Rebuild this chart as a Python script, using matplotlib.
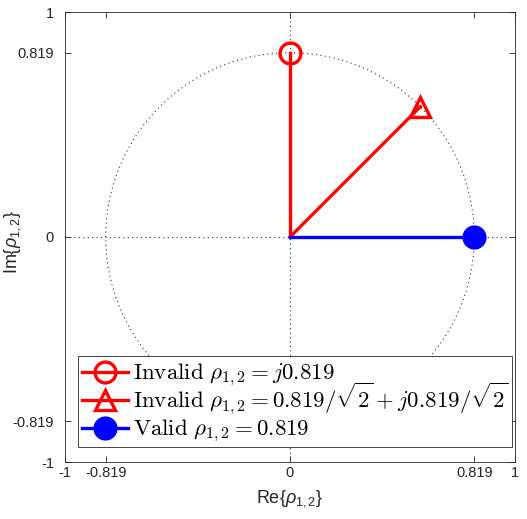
import numpy as np
import matplotlib
matplotlib.use("Agg")
import matplotlib.pyplot as plt
from matplotlib.patches import Rectangle
from matplotlib.lines import Line2D

r = 0.819
angles_deg = [90, 45, 0]
colors = ["#ff0000", "#ff0000", "#0000ff"]
markers = ["o", "^", "o"]
fills = ["none", "none", "full"]
labels = [r"$\mathrm{Invalid}\ \rho_{1,2} = j0.819$",
          r"$\mathrm{Invalid}\ \rho_{1,2} = 0.819/\sqrt{2} + j0.819/\sqrt{2}$",
          r"$\mathrm{Valid}\ \rho_{1,2} = 0.819$"]
ticks = [-1, -0.819, 0, 0.819, 1]
tick_labels = ["-1", "-0.819", "0", "0.819", "1"]

plt.rcParams['font.family'] = ['Liberation Sans', 'DejaVu Sans']
plt.rcParams['mathtext.fontset'] = 'custom'
plt.rcParams['mathtext.rm'] = 'Liberation Sans'
plt.rcParams['mathtext.it'] = 'Liberation Sans:italic'

fig = plt.figure(figsize=(5.27, 5.19), dpi=100)
ax = fig.add_axes([65/527, 1-462/519, 450/527, 450/519])

t = np.linspace(0, 2*np.pi, 400)
ax.plot(r*np.cos(t), r*np.sin(t), ls=(0, (1, 3)), color="#333333", lw=0.8)
ax.plot([-1, 1], [0, 0], ls=(0, (1, 3)), color="#333333", lw=0.8)
ax.plot([0, 0], [-1, 1], ls=(0, (1, 3)), color="#333333", lw=0.8)

lw = 2.4
ms = 15
for a, c, m, f in zip(angles_deg, colors, markers, fills):
    x = r*np.cos(np.deg2rad(a))
    y = r*np.sin(np.deg2rad(a))
    if abs(x) < 1e-12: x = 0.0
    if abs(y) < 1e-12: y = 0.0
    ax.plot([0, x], [0, y], color=c, lw=lw)
    ax.plot([x], [y], color=c, marker=m, markersize=ms, markeredgewidth=lw,
            markerfacecolor=(c if f == "full" else "none"), ls="none")

ax.set_xlim(-1, 1)
ax.set_ylim(-1, 1)
ax.set_xticks(ticks)
ax.set_xticklabels(tick_labels)
ax.set_yticks(ticks)
ax.set_yticklabels(tick_labels)
ax.tick_params(direction='in', top=True, right=True, labelsize=10.5,
               colors="#262626", length=4, width=0.6)
ax.tick_params(axis='y', pad=8)
ax.tick_params(axis='x', pad=3)
for s in ax.spines.values():
    s.set_color("#262626")
    s.set_linewidth(0.6)
ax.set_xlabel(r"Re{$\rho_{1,2}$}", fontsize=13, color="#262626")
ax.set_ylabel(r"Im{$\rho_{1,2}$}", fontsize=13, color="#262626")
ax.xaxis.set_label_coords(0.5, -0.058)
ax.yaxis.set_label_coords(-0.094, 0.49)

# legend (MATLAB-style, evenly spaced rows)
ax.add_patch(Rectangle((0.029, 0.033), 0.964, 0.203, transform=ax.transAxes,
                       facecolor="white", edgecolor="#262626", lw=0.6,
                       zorder=10))
row_y = [0.2, 0.138, 0.076]
for yy, c, m, f, lab in zip(row_y, colors, markers, fills, labels):
    ax.add_line(Line2D([0.038, 0.14], [yy, yy], transform=ax.transAxes,
                       color=c, lw=lw, zorder=11))
    ax.add_line(Line2D([0.089], [yy], transform=ax.transAxes, color=c,
                       marker=m, markersize=ms, markeredgewidth=lw,
                       markerfacecolor=(c if f == "full" else "none"),
                       ls="none", zorder=12))
    ax.text(0.151, yy - 0.0155, lab, transform=ax.transAxes, fontsize=16.5,
            math_fontfamily='cm', va='baseline', ha='left', zorder=13)

fig.savefig("out.png", dpi=100)
